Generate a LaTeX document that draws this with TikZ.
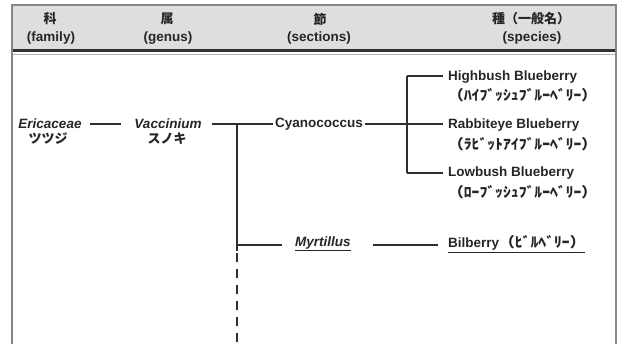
\documentclass[tikz,border=0pt]{standalone}
\usepackage{fontspec}
\setmainfont{Liberation Sans}
\newfontfamily\cjk{Noto Sans CJK JP}
\definecolor{txt}{HTML}{262626}
\definecolor{linec}{HTML}{2E2E2E}
\definecolor{bordc}{HTML}{858585}
\definecolor{bandc}{HTML}{DEDEDE}
\newcommand{\kana}[1]{\scalebox{1.12}[1]{#1}}
\begin{document}
\begin{tikzpicture}[x=1pt,y=-1pt,
  lbl/.style={font=\fontsize{13.5}{15}\selectfont\bfseries, text=txt, inner sep=2pt},
  ilbl/.style={lbl, font=\fontsize{13.5}{15}\selectfont\bfseries\itshape},
  jp/.style={font=\fontsize{13}{15}\selectfont\cjk\bfseries, text=txt, inner sep=2pt},
  kn/.style={font=\fontsize{14}{15}\selectfont\cjk\bfseries, text=txt, inner sep=2pt},
  conn/.style={draw=linec, line width=1.8pt},
  bord/.style={draw=bordc, line width=2pt}]
\useasboundingbox (0,0) rectangle (620,344);
% body nodes
\node[ilbl] (famL) at (50,124) {Ericaceae};
\node[jp] (famJ) at (48,139) {ツツジ};
\node[ilbl] (genL) at (168,124) {Vaccinium};
\node[jp] (genJ) at (167,139) {スノキ};
\node[lbl, anchor=west] (secC) at (273,124) {Cyanococcus};
\node[ilbl, anchor=west] (myr) at (293,244) {\underline{Myrtillus}};
\node[lbl, anchor=west] (sp1) at (446,77) {Highbush Blueberry};
\node[kn, anchor=west] (sp1j) at (446,95) {\kana{（ﾊｲﾌﾞｯｼｭﾌﾞﾙｰﾍﾞﾘｰ）}};
\node[lbl, anchor=west] (sp2) at (446,125) {Rabbiteye Blueberry};
\node[kn, anchor=west] (sp2j) at (446,144) {\kana{（ﾗﾋﾞｯﾄｱｲﾌﾞﾙｰﾍﾞﾘｰ）}};
\node[lbl, anchor=west] (sp3) at (446,173) {Lowbush Blueberry};
\node[kn, anchor=west] (sp3j) at (446,192) {\kana{（ﾛｰﾌﾞｯｼｭﾌﾞﾙｰﾍﾞﾘｰ）}};
\node[lbl, anchor=west] (bil) at (446,244) {\underline{Bilberry{\cjk\fontsize{14}{15}\selectfont\kana{（ﾋﾞﾙﾍﾞﾘｰ）}}}};
% coordinates
\coordinate (j1) at (237,124);
\coordinate (j2) at (237,245);
\coordinate (js) at (237,251);
\coordinate (jd) at (237,253);
\coordinate (jend) at (237,344);
\coordinate (b) at (407,124);
\coordinate (b1) at (407,76);
\coordinate (b3) at (407,173);
% connectors
\draw[conn, shorten <=6pt, shorten >=11pt] (famL.east) -- (genL.west);
\draw[conn, shorten <=8pt] (genL.east) -- (secC.west |- genL.east);
\draw[conn] (j1) -- (js);
\draw[conn, dash pattern=on 9pt off 7pt] (jd) -- (jend);
\draw[conn, shorten >=11pt] (j2) -- (myr.west |- j2);
\draw[conn, shorten <=20pt, shorten >=8pt] (myr.east |- j2) -- (bil.west |- j2);
\draw[conn] (secC.east |- b) -- (b);
\draw[conn] (b1) -- (b3);
\draw[conn, shorten >=3pt] (b1) -- (sp1.west |- b1);
\draw[conn, shorten >=3pt] (b) -- (sp2.west |- b);
\draw[conn, shorten >=3pt] (b3) -- (sp3.west |- b3);
% header band
\fill[bandc] (12,5) rectangle (616,52);
\draw[bordc, line width=1.5pt] (12,5) -- (616,5);
\draw[black!80, line width=3pt] (12,51) -- (616,51);
\draw[black!30, line width=0.8pt] (12,54) -- (616,54);
\draw[bord] (12,4.5) -- (12,344);
\draw[bord] (616,4.5) -- (616,344);
\node[jp] (h1) at (50,19) {科};
\node[lbl] (h1e) at (51,38) {(family)};
\node[jp] (h2) at (167,19) {属};
\node[lbl] (h2e) at (168,38) {(genus)};
\node[jp] (h3) at (320,19) {節};
\node[lbl] (h3e) at (319,38) {(sections)};
\node[jp] (h4) at (531,19) {種（一般名）};
\node[lbl] (h4e) at (532,38) {(species)};
\end{tikzpicture}
\end{document}
